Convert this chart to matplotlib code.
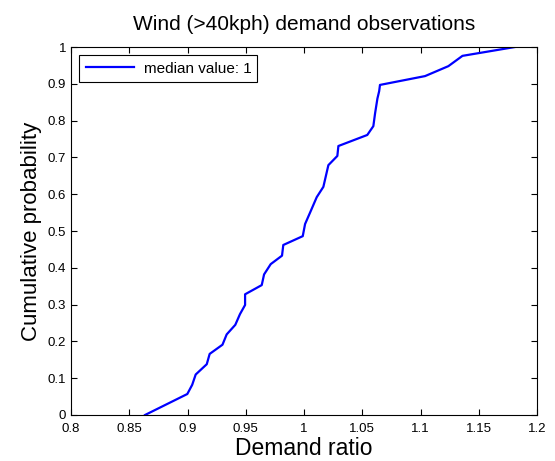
import matplotlib.pyplot as plt

plt.rcParams['font.family'] = ['Liberation Sans', 'DejaVu Sans']

# demand ratio vs cumulative probability
ratio = [0.8635, 0.8998, 0.904, 0.907, 0.9165, 0.919, 0.930, 0.9336, 0.941, 0.945,
         0.9494, 0.9494, 0.9637, 0.9657, 0.9714, 0.9811, 0.9822, 0.9989, 1.0009,
         1.0060, 1.0109, 1.0166, 1.0209, 1.0286, 1.0295, 1.0543, 1.0595, 1.0610,
         1.0630, 1.0645, 1.0652, 1.1039, 1.1239, 1.136, 1.181]
prob = [0.0, 0.057, 0.082, 0.110, 0.138, 0.166, 0.191, 0.219, 0.245, 0.274,
        0.299, 0.328, 0.353, 0.382, 0.410, 0.433, 0.462, 0.486, 0.519,
        0.556, 0.592, 0.620, 0.679, 0.704, 0.731, 0.761, 0.785, 0.820,
        0.860, 0.880, 0.897, 0.921, 0.948, 0.976, 1.0]

xticks = [0.8, 0.85, 0.9, 0.95, 1, 1.05, 1.1, 1.15, 1.2]
yticks = [0, 0.1, 0.2, 0.3, 0.4, 0.5, 0.6, 0.7, 0.8, 0.9, 1]

fig = plt.figure(figsize=(5.55, 4.61), dpi=100)
ax = fig.add_axes([0.128, 0.0998, 0.8396, 0.7982])

ax.plot(ratio, prob, color=(0, 0, 1), linewidth=1.6, label='median value: 1')

ax.set_xlim(0.8, 1.2)
ax.set_ylim(0, 1)
ax.set_xticks(xticks)
ax.set_xticklabels([f'{v:g}' for v in xticks])
ax.set_yticks(yticks)
ax.set_yticklabels([f'{v:g}' for v in yticks])
ax.tick_params(direction='in', top=True, right=True, labelsize=9.5, length=4, width=0.8)
ax.tick_params(axis='x', pad=6)
for s in ax.spines.values():
    s.set_linewidth(0.8)

ax.set_title('Wind (>40kph) demand observations', fontsize=15, pad=12)
ax.set_xlabel('Demand ratio', fontsize=16.5, labelpad=1)
ax.set_ylabel('Cumulative probability', fontsize=16, labelpad=4)

leg = ax.legend(loc='upper left', fontsize=11, fancybox=False, framealpha=1,
                edgecolor='black', borderaxespad=0.55, handlelength=3.2,
                borderpad=0.4, handletextpad=0.6)
leg.get_frame().set_linewidth(0.8)

fig.savefig('out.png', dpi=100)
